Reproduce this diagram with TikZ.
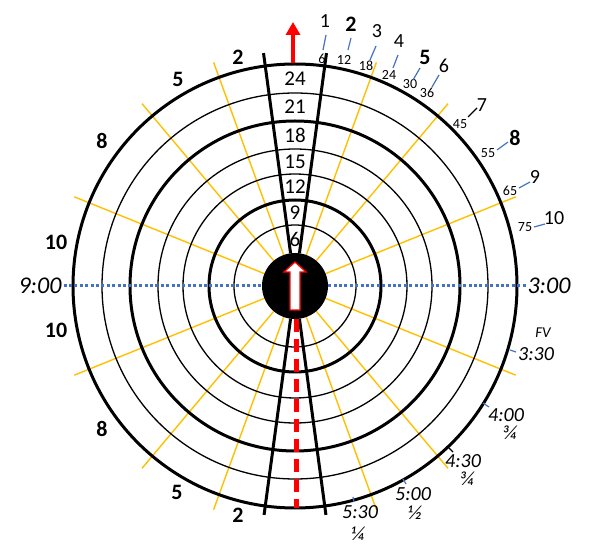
\documentclass[tikz,border=0pt]{standalone}
\usepackage{fontspec}
\setmainfont{Carlito}
\usetikzlibrary{arrows.meta}
\definecolor{ringgold}{RGB}{255,192,0}
\definecolor{leadblue}{RGB}{68,114,196}
\definecolor{markred}{RGB}{255,0,0}

\begin{document}
\begin{tikzpicture}[x=1pt, y=1pt,
    thinring/.style={line width=1.3pt},
    thickring/.style={line width=3pt},
    spoke/.style={ringgold, line width=1.4pt},
    lead/.style={leadblue, line width=1.2pt},
    bignum/.style={font=\fontsize{20}{20}\selectfont, inner sep=0pt},
    boldnum/.style={font=\fontsize{22}{22}\selectfont\bfseries, inner sep=0pt},
    smallnum/.style={font=\fontsize{14}{14}\selectfont, inner sep=0pt},
    clocktext/.style={font=\fontsize{20}{20}\selectfont\itshape, inner sep=0pt},
    fractext/.style={font=\fontsize{20}{20}\selectfont\itshape, inner sep=0pt},
    ringnum/.style={font=\fontsize{21}{21}\selectfont, inner sep=0pt},
]
    \useasboundingbox (0,0) rectangle (598,552);
    \coordinate (c) at (295,266);

    % yellow spokes
    \foreach \a in {22,50,70,110,130,158,202,230,250,290,310,338}
        \draw[spoke] ([shift={(\a:33)}]c) -- ([shift={(\a:238)}]c);

    % rings
    \foreach \r in {61,112,137,193}
        \draw[thinring] (c) circle (\r);
    \foreach \r in {86,165,222}
        \draw[thickring] (c) circle (\r);

    % black column
    \foreach \a in {82.3,97.7}
        \draw[thickring] ([shift={(\a:33)}]c) -- ([shift={(\a:235)}]c);
    \foreach \a in {262.3,277.7}
        \draw[thickring] ([shift={(\a:33)}]c) -- ([shift={(\a:231)}]c);

    % clock labels and dotted line
    \node[font=\fontsize{24}{24}\selectfont\itshape, inner sep=0pt] (t900) at (40,266) {9:00};
    \node[font=\fontsize{24}{24}\selectfont\itshape, inner sep=0pt] (t300) at (549,266) {3:00};
    \draw[leadblue, line width=3pt, dash pattern=on 3pt off 2.4pt] ([xshift=2pt]t900.east) -- ([xshift=-1pt]t300.west);

    % disk and arrows
    \fill (c) circle (33);
    \draw[markred, line width=1.3pt, fill=white]
        ([shift={(-5,-24)}]c) -- ([shift={(-5,14)}]c) -- ([shift={(-11,14)}]c) -- ([shift={(0,24)}]c)
        -- ([shift={(11,14)}]c) -- ([shift={(5,14)}]c) -- ([shift={(5,-24)}]c) -- cycle;
    \coordinate (top) at (293,489);
    \coordinate (tip) at (293,530);
    \draw[markred, line width=4pt, -{Triangle[length=13pt, width=14pt]}] (top) -- (tip);
    \coordinate (low) at (296,233);
    \coordinate (foot) at (296,44);
    \draw[markred, line width=5pt, dash pattern=on 13pt off 7pt] (low) -- (foot);

    % column values
    \foreach \v/\r in {6/47,9/73.5,12/99,15/124.5,18/151,21/179,24/207.5}
        \node[ringnum] (v\v) at ([yshift=\r]c) {\v};

    % left labels
    \node[boldnum] (l2a) at (238,495) {2};
    \node[boldnum] (l5a) at (178,473) {5};
    \node[boldnum] (l8a) at (102,411) {8};
    \node[boldnum] (l10a) at (56,310) {10};
    \node[boldnum] (l10b) at (56,222) {10};
    \node[boldnum] (l8b) at (102,123) {8};
    \node[boldnum] (l5b) at (177,60) {5};
    \node[boldnum] (l2b) at (238,37) {2};

    % top right labels
    \node[bignum] (r1) at (325,531) {1};
    \node[boldnum] (r2) at (351,528) {2};
    \node[bignum] (r3) at (377,521) {3};
    \node[bignum] (r4) at (399,511) {4};
    \node[boldnum] (r5) at (425,495) {5};
    \node[bignum] (r6) at (444,486) {6};
    \node[bignum] (r7) at (482,447) {7};
    \node[boldnum] (r8) at (515,414) {8};
    \node[bignum] (r9) at (535,375) {9};
    \node[bignum] (r10) at (554,334) {10};
    \node[smallnum] (s6) at (322,493) {6};
    \node[smallnum] (s12) at (344,492) {12};
    \node[smallnum] (s18) at (366,486) {18};
    \node[smallnum] (s24) at (389,477) {24};
    \node[smallnum] (s30) at (410,468) {30};
    \node[smallnum] (s36) at (427,459) {36};
    \node[smallnum] (s45) at (460,428) {45};
    \node[smallnum] (s55) at (488,399) {55};
    \node[smallnum] (s65) at (510,361) {65};
    \node[smallnum] (s75) at (525,325) {75};

    % bottom right labels
    \node[font=\fontsize{15}{15}\selectfont\itshape, inner sep=0pt] (fv) at (543,219) {FV};
    \node[clocktext] (t330) at (536,198) {3:30};
    \node[clocktext] (t400) at (506,137) {4:00};
    \node[fractext] (f400) at (510,119) {¾};
    \node[clocktext] (t430) at (463,91) {4:30};
    \node[fractext] (f430) at (467,73) {¾};
    \node[clocktext] (t500) at (413,58) {5:00};
    \node[fractext] (f500) at (415,39) {½};
    \node[clocktext] (t530) at (360,40) {5:30};
    \node[fractext] (f530) at (358,18) {¼};

    % leaders
    \foreach \n/\ax/\ay/\ex/\ey in {1/323/502/326/517, 2/348/502/351/514, 3/370/492/376/506,
        4/393/484/398/497, 5/413/472/420/484, 6/432/465/439/477, 8/497/402/508/410,
        9/519/364/530/370, 10/534/325/545/328, 11/510/202/516/200, 12/483/149/489/145,
        13/403/73/406/68, 14/353/55/354/50} {
        \coordinate (la\n) at (\ax,\ay);
        \coordinate (le\n) at (\ex,\ey);
        \draw[lead] (la\n) -- (le\n);
    }
    \coordinate (k7a) at (468,435);
    \coordinate (k7b) at (477,444);
    \draw[line width=1.2pt] (k7a) -- (k7b);
    \coordinate (k430a) at (448,105);
    \coordinate (k430b) at (453,100);
    \draw[line width=1.2pt] (k430a) -- (k430b);
\end{tikzpicture}
\end{document}
